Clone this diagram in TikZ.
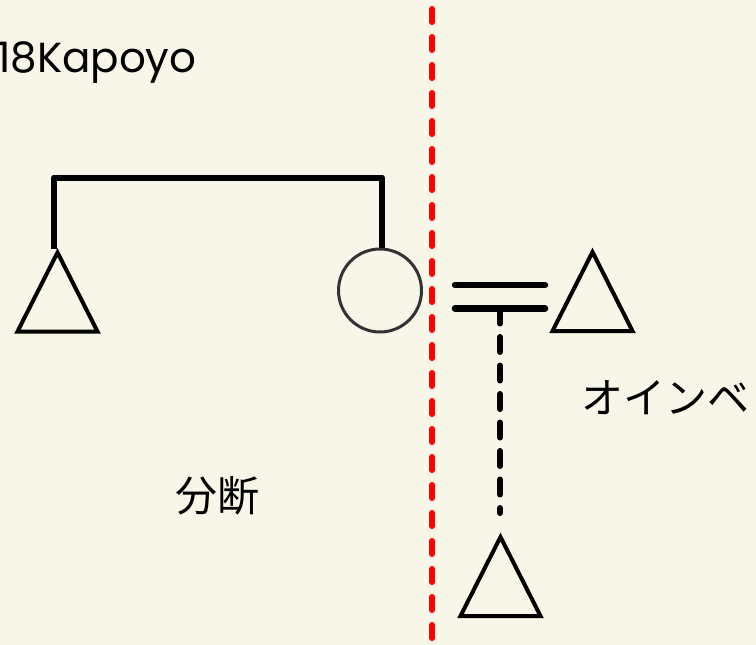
\documentclass[tikz,border=0pt]{standalone}
\usepackage{fontspec}
\setmainfont{Poppins}
\newfontfamily\cjk{Noto Sans CJK JP}
\definecolor{bg}{HTML}{F7F6E8}
\definecolor{dashred}{HTML}{FF0000}
\definecolor{circgray}{HTML}{333333}
\begin{document}
\begin{tikzpicture}[x=1pt,y=-1pt,
  tri/.style={draw=black, line width=4pt, line join=miter},
  tripic/.pic={\draw[tri] (0,0) -- (-40,79) -- (40,79) -- cycle;},
  bracket/.style={line width=6pt, line join=round},
  bar/.style={line width=6.5pt, line cap=round},
  cutline/.style={dashred, line width=6pt, line cap=round, dash pattern=on 13pt off 15pt},
  linkdash/.style={line width=6pt, line cap=round, dash pattern=on 15pt off 13.5pt},
  lbl/.style={inner sep=0pt, font=\fontsize{42}{50}\selectfont},
  jlbl/.style={inner sep=0pt, font=\cjk\fontsize{42}{50}\selectfont}]
\fill[bg] (0,0) rectangle (756,645);
\useasboundingbox (0,0) rectangle (756,645);
% triangles
\coordinate (tL) at (57.5,252.5);
\coordinate (tR) at (592.5,252);
\coordinate (tB) at (500.5,537);
\pic at (tL) {tripic};
\pic at (tR) {tripic};
\pic at (tB) {tripic};
% circle
\node[circle, draw=circgray, line width=3pt, minimum size=83pt, inner sep=0pt] (circ) at (380,290.5) {};
% bracket
\coordinate (bL) at (54,249);
\coordinate (bLt) at (54,177.5);
\coordinate (bRt) at (382,177.5);
\draw[bracket] (bL) -- (bLt) -- (bRt) -- (circ.north -| bRt);
% double bars
\coordinate (b1a) at (455,285);
\coordinate (b1b) at (545,285);
\coordinate (b2a) at (455,308.5);
\coordinate (b2b) at (545,308.5);
\coordinate (b2m) at (500,308.5);
\coordinate (dEnd) at (500,513);
\draw[bar] (b1a) -- (b1b);
\draw[bar] (b2a) -- (b2b);
\draw[linkdash] (b2m) -- (dEnd);
% red dashed separator
\coordinate (rTop) at (432,9);
\coordinate (rBot) at (432,648);
\draw[cutline] (rTop) -- (rBot);
% labels
\node[lbl, anchor=base west] (name) at (-3,72) {18Kapoyo};
\node[jlbl, anchor=base west] (kata) at (581,413) {オインベ};
\node[jlbl, anchor=base] (bun) at (217.5,511) {分断};
\end{tikzpicture}
\end{document}
